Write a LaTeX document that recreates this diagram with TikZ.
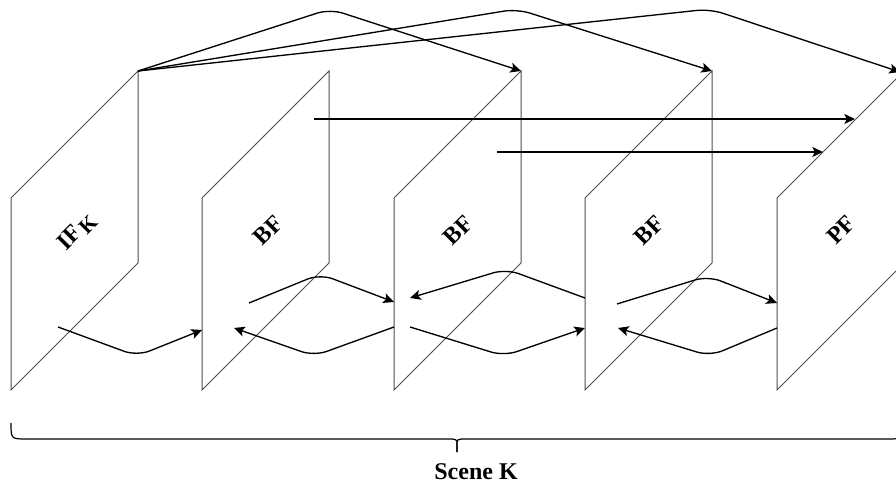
\documentclass[tikz,border=0pt]{standalone}
\usepackage{fontspec}
\setmainfont{Liberation Serif}
\usetikzlibrary{arrows.meta}
\begin{document}
\begin{tikzpicture}[x=0.75pt,y=-0.75pt,
  panel/.style={draw=black!70,line width=0.75pt},
  conn/.style={draw=black,line width=1pt,rounded corners=10pt,-{Stealth[length=8pt,width=7.5pt,inset=1.8pt]}},
  lbl/.style={font=\bfseries\fontsize{18}{20}\selectfont,rotate=45,inner sep=0pt},
  bracestyle/.style={draw=black,line width=0.9pt}]
\useasboundingbox (0,0) rectangle (896,484);
\begin{scope}
\clip (0,0) rectangle (896,484);
% panels
\foreach \n/\L in {p1/11,p2/202,p3/394,p4/585,p5/777}{
  \coordinate (\n tl) at (\L,198);
  \coordinate (\n tr) at (\L+127,71);
  \coordinate (\n br) at (\L+127,263);
  \coordinate (\n bl) at (\L,390);
  \draw[panel] (\n tl) -- (\n tr) -- (\n br) -- (\n bl) -- cycle;
}
% labels
\node[lbl] (lif) at (77,232) {IF\kern1.5pt\raisebox{-0.3ex}{\fontsize{16}{16}\selectfont K}};
\node[lbl] (lb1) at (268,230) {BF};
\node[lbl] (lb2) at (458,230) {BF};
\node[lbl] (lb3) at (649,230) {BF};
\node[lbl] (lpf) at (841,230) {PF};
% top connectors
\coordinate (k1) at (330,9);
\coordinate (k2) at (517,9);
\coordinate (k3) at (710,9);
\coordinate (t3) at (900,72);
\draw[conn] (p1tr) -- (k1) -- (p3tr);
\draw[conn] (p1tr) -- (k2) -- (p4tr);
\draw[conn] (p1tr) -- (k3) -- (t3);
% horizontal
\coordinate (h1s) at (314,119);
\coordinate (h1e) at (855,119);
\coordinate (h2s) at (497,152);
\coordinate (h2e) at (823,152);
\draw[conn] (h1s) -- (h1e);
\draw[conn] (h2s) -- (h2e);
% bottom connectors
\coordinate (a1s) at (58,327);  \coordinate (a1c) at (137,356); \coordinate (a1e) at (202,330);
\coordinate (a2s) at (394,327); \coordinate (a2c) at (314,356); \coordinate (a2e) at (234,328);
\coordinate (a3s) at (249,303); \coordinate (a3c) at (320,274); \coordinate (a3e) at (394,302);
\coordinate (a4s) at (585,298); \coordinate (a4c) at (506,269); \coordinate (a4e) at (410,298);
\coordinate (a5s) at (410,327); \coordinate (a5c) at (504,356); \coordinate (a5e) at (585,328);
\coordinate (a6s) at (617,304); \coordinate (a6c) at (708,276); \coordinate (a6e) at (777,303);
\coordinate (a7s) at (777,328); \coordinate (a7c) at (710,356); \coordinate (a7e) at (618,328);
\foreach \a in {a1,a2,a3,a4,a5,a6,a7}{
  \draw[conn] (\a s) -- (\a c) -- (\a e);
}
% brace
\coordinate (bl) at (11,423);
\coordinate (bm) at (457,452);
\coordinate (br) at (903,423);
\draw[bracestyle] (bl) .. controls (11,439) .. (27,439) -- (447,439) .. controls (457,439) .. (457,445) -- (bm);
\draw[bracestyle] (bm) -- (457,445) .. controls (457,439) .. (467,439) -- (887,439) .. controls (903,439) .. (br);
\end{scope}
\node[font=\bfseries\fontsize{18}{20}\selectfont,inner sep=0pt] (scene) at (476,472) {Scene K};
\end{tikzpicture}
\end{document}
